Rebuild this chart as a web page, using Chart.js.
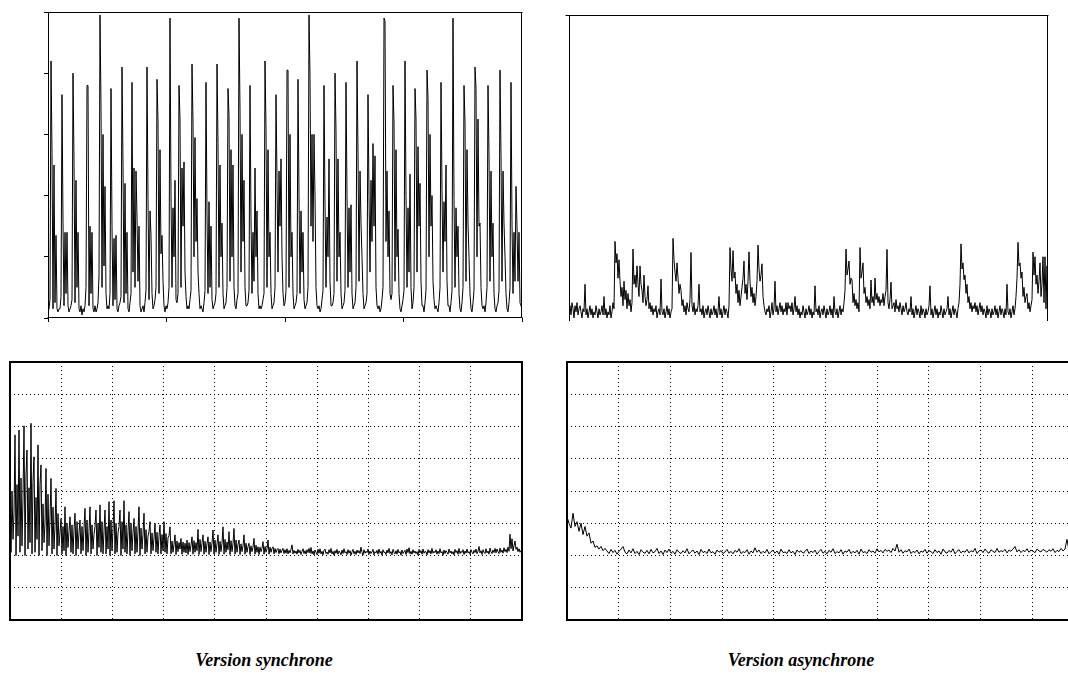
<!DOCTYPE html>
<html>
<head>
<meta charset="utf-8">
<script src="https://cdn.jsdelivr.net/npm/chart.js@4.4.1/dist/chart.umd.min.js"></script>
<style>
  html, body { margin: 0; padding: 0; background: #fff; overflow: hidden; }
  body { width: 1068px; height: 690px; position: relative; }
  canvas { position: absolute; }
  .caption {
    position: absolute;
    font: italic bold 18px 'Liberation Serif', 'Times New Roman', serif;
    line-height: 18px;
    color: #000;
    white-space: nowrap;
    transform: translateX(-50%);
  }
</style>
</head>
<body>
<canvas id="sync-signal" width="540" height="330" style="left:0;top:0"></canvas>
<canvas id="async-signal" width="528" height="330" style="left:540px;top:0"></canvas>
<canvas id="sync-spectrum" width="540" height="290" style="left:0;top:350px"></canvas>
<canvas id="async-spectrum" width="540" height="290" style="left:555px;top:350px"></canvas>
<div class="caption" style="left:264px;top:651px">Version synchrone</div>
<div class="caption" style="left:801px;top:651px">Version asynchrone</div>
<script>
// one sample per pixel column, % of full scale
const syncSignal = [
  2, 3,
  6, 84, 54, 3, 50, 5, 27, 3, 2, 3, 3,
  7, 73, 31, 4, 28, 8, 28, 4, 2, 3, 4,
  6, 80, 51, 5, 45, 10, 28, 3, 2, 4, 1, 3, 2, 4,
  10, 76, 76, 4, 30, 8, 28, 3, 2, 4, 2, 3, 5,
  14, 99, 69, 10, 60, 17, 43, 8, 3, 4, 3,
  8, 75, 30, 4, 26, 6, 27, 3, 2, 4, 5,
  7, 82, 50, 5, 44, 8, 28, 3, 2, 5,
  8, 77, 15, 49, 10, 48, 33, 12, 30, 4, 2, 3, 4, 2, 5,
  9, 82, 39, 6, 35, 27, 8, 3, 4, 6,
  10, 78, 64, 8, 55, 21, 27, 12, 4, 2, 4, 3, 5,
  10, 98, 40, 10, 36, 20, 45, 6, 5,
  8, 76, 65, 10, 49, 30, 51, 15, 7, 3, 4, 3, 6,
  9, 83, 64, 20, 59, 25, 39, 15, 8, 3, 4, 3, 2, 5,
  9, 77, 34, 8, 38, 10, 30, 6, 3, 4, 5,
  8, 83, 57, 10, 50, 20, 31, 8, 3, 4, 5,
  10, 75, 66, 12, 55, 20, 50, 10, 4, 3, 6,
  8, 98, 68, 15, 60, 25, 45, 10, 4, 4, 5,
  9, 76, 32, 8, 28, 12, 49, 20, 35, 8, 3, 4, 3, 4, 6,
  8, 84, 62, 10, 55, 20, 28, 8, 3, 4, 5,
  10, 73, 45, 15, 48, 30, 52, 20, 8, 4, 5,
  9, 81, 81, 10, 60, 20, 28, 8, 3, 4, 5,
  8, 78, 40, 8, 35, 15, 28, 6, 3, 4, 5,
  10, 99, 79, 30, 60, 25, 60, 40, 10, 4, 3, 4, 2, 3, 6,
  9, 76, 37, 10, 33, 20, 52, 12, 4, 4, 5,
  8, 80, 61, 12, 52, 20, 28, 8, 3, 4, 5,
  9, 77, 40, 10, 36, 15, 37, 8, 3, 4, 5,
  10, 84, 54, 12, 48, 31, 20, 8, 3, 4, 5,
  8, 73, 40, 15, 45, 25, 57, 30, 53, 10, 4, 3, 4, 2, 3, 6,
  10, 98, 97, 25, 48, 20, 35, 8, 6,
  8, 76, 64, 12, 55, 20, 29, 8, 3, 2, 4, 6,
  9, 84, 40, 10, 36, 15, 47, 10, 3, 5,
  10, 75, 65, 15, 56, 30, 44, 12, 4, 4, 2, 5,
  9, 81, 72, 20, 60, 30, 40, 12, 6, 3, 4, 3, 2, 5,
  10, 77, 42, 15, 38, 25, 50, 12, 4, 4, 2, 5,
  9, 98, 39, 10, 36, 20, 30, 8, 3, 2, 5,
  10, 76, 64, 12, 55, 31, 20, 8, 3, 2, 5,
  9, 82, 75, 20, 65, 30, 31, 10, 4, 3, 4, 2, 5,
  10, 76, 53, 12, 48, 20, 31, 8, 3, 2, 4, 5,
  9, 81, 53, 12, 48, 31, 20, 8, 3, 2, 5,
  10, 77, 31, 8, 28, 12, 43, 30, 12, 28, 5, 4, 3,
];

const asyncSignal = [
  3, 5, 2, 6, 4, 1, 5, 3, 6, 2, 4, 5, 3, 1, 4, 3, 12, 2, 4, 1,
  3, 5, 2, 4, 1, 3, 2, 5, 3, 1, 4, 2, 3, 5, 2, 8, 2, 4, 1, 3, 2, 5, 1, 3, 6, 4,
  26, 19, 22, 14, 20, 13, 8, 11, 5, 13, 7, 10, 4, 9, 5, 7, 3, 6, 23.5, 12,
  15, 11, 18, 12, 8, 18, 12, 10, 6, 15, 8, 5, 7, 11.5, 4, 6, 3, 5,
  2, 4, 3, 5, 1, 3, 4, 2, 13.7, 3, 2, 4, 1, 3, 5, 2, 4, 1, 3, 4,
  27, 20, 16, 13, 19, 14, 9, 12, 10, 5, 7, 3, 5, 2, 6, 4, 3, 7, 22.4, 5,
  3, 6, 2, 4, 3, 5, 12, 3,
  4, 2, 5, 1, 3, 4, 2, 5, 3, 1, 4, 2, 3, 5, 2, 4, 1, 3, 8, 2, 4, 1, 3, 5, 2, 4, 3, 1, 5,
  24, 17, 13, 23, 14, 16, 9, 12, 6, 10, 5, 8, 11, 14, 19.6, 9, 12, 7, 13, 22.6,
  13, 8, 11, 6, 9, 5, 8, 13, 24.8, 17, 13, 15, 18.7, 8, 5, 3,
  2, 4, 3, 5, 1, 3, 6, 2, 4, 13, 3, 5, 2, 4, 6, 3, 5, 2, 4, 3,
  6, 2, 6, 4, 5, 3, 6, 2, 4, 8, 3, 5, 2, 4, 1, 3, 2, 5, 3, 1,
  4, 2, 3, 5, 2, 4, 1, 3, 2, 11.5, 3, 4, 2, 5, 1, 3, 4, 2, 5, 3,
  1, 4, 2, 3, 5, 2, 4, 1, 8, 3, 2, 4, 1, 3, 5, 2, 4, 3, 6,
  10, 23.5, 15, 17, 19.6, 12, 14, 13.4, 6, 9, 5, 7, 4, 6, 3, 24, 14, 16, 19, 9,
  11, 6, 8, 5, 7, 4, 13.4, 6, 8, 5, 14, 7, 9, 6, 8, 5, 7, 6, 9, 5,
  8, 10, 23.4, 6, 4, 7, 12.7, 4,
  5, 6, 3, 7, 4, 5, 3, 6, 4, 2, 5, 3, 4, 6, 3, 2, 4, 3, 8, 2,
  4, 1, 3, 5, 2, 4, 3, 1, 5, 2, 4, 3, 1, 4, 2, 3, 5, 11.5, 2, 4,
  1, 3, 5, 2, 4, 1, 3, 2, 5, 3, 1, 4, 2, 3, 4, 8, 2, 4, 1, 3,
  5, 2, 4, 3, 1, 4, 6,
  12, 25.2, 17, 19, 13.5, 15, 9, 12, 6, 8, 4, 6, 3, 5, 4, 6,
  3, 5, 2, 4, 6, 3, 5, 2, 4, 3, 1, 5, 2, 4, 3, 1, 4, 2, 3, 5,
  2, 4, 1, 3, 5, 2, 4, 3, 1, 4, 2, 12, 3, 2, 4, 1, 3, 5, 2, 4, 8,
  14, 25.7, 18, 19, 14, 16, 8, 11, 6, 8, 9, 4, 6, 3, 5, 7, 22.5, 15, 21, 12,
  15, 9, 13, 19, 8, 12, 21, 6, 21, 4, 18, 5,
];

// spectra, in hundredths of a grid division (8 divisions tall)
const syncSpectrum = [
  430, 210, 400, 250, 330, 574, 200, 420, 260, 589,
  210, 440, 230, 380, 602, 200, 450, 527, 220, 410,
  240, 610, 205, 430, 506, 210, 380, 250, 543, 200,
  420, 481, 215, 360, 240, 300, 470, 200, 390, 230,
  320, 439, 205, 350, 220, 290, 408, 200, 330, 230,
  270,
  315, 205, 290, 215, 351, 200, 300, 225, 275, 320, 210, 295, 205, 280,
  331, 200, 305, 220, 270, 310, 205, 290, 215, 285, 346, 200, 310, 210, 275,
  351, 205, 295, 220, 265, 290, 341, 200, 300, 225, 357, 210, 305, 205, 275,
  341, 205, 290, 220, 367, 200, 310, 215, 280, 370, 205, 300, 210, 270, 290,
  341, 200, 305, 220, 370, 210, 295, 205, 275, 336, 200, 300, 215, 270,
  315, 205, 290, 210, 275, 351, 200, 285, 220, 265, 331, 205, 280, 210, 260, 275,
  305, 205, 270, 215, 255, 300, 210, 272, 205, 260, 295, 205, 265, 215,
  305, 210, 268, 205, 255, 262, 289,
  205, 245, 210, 235, 264, 203, 245, 212, 240, 220, 253, 204, 242, 210, 238, 208,
  248, 203, 240, 212, 232, 258, 204, 246, 210, 240, 215, 281, 203, 250, 212, 238,
  264, 204, 244, 210, 236, 258, 203, 242, 212, 238, 279, 204, 248, 210, 236,
  264, 203, 244, 212, 238, 289, 204, 250, 210, 242, 218, 274, 203, 246, 212, 236,
  284, 204, 248, 210, 234, 248, 203, 236, 212, 230, 264, 204, 238, 210, 228,
  238, 203, 230, 212, 226, 253, 204, 232, 210, 227, 203, 226, 212, 222,
  243, 204, 228, 210, 220, 248, 204, 226, 210, 222, 227, 205, 222, 209, 218,
  222, 205, 220, 208, 216, 222, 206, 218, 207, 221, 205, 216, 208, 219, 233, 205, 216, 207,
  214, 204, 219, 208, 216, 203, 212, 221, 206, 215, 204, 218, 209, 222, 207, 225, 205, 214, 202, 217,
  210, 203, 219, 207, 221, 205, 213, 202, 216, 220, 206, 211, 204, 218, 208, 222, 205, 213, 201, 215,
  207, 219, 204, 214, 209, 202, 217, 206, 221, 208, 212, 203, 218, 207, 215, 201, 211, 219, 205, 213,
  203, 217, 208, 215, 206, 226, 210, 201, 218, 207, 213, 209, 220, 204, 214, 206, 211, 219, 202, 212,
  208, 216, 204, 220, 207, 213, 201, 218, 209, 211, 203, 217, 208, 222, 206, 212, 202, 219, 210, 205,
  215, 204, 219, 208, 212, 201, 217, 206, 211, 216, 203, 220, 209, 224, 205, 213, 204, 218, 208, 214,
  206, 212, 201, 219, 208, 215, 204, 220, 207, 213, 211, 202, 218, 208, 215, 205, 222, 207, 213, 209,
  218, 204, 214, 206, 221, 208, 212, 201, 217, 206, 215, 210, 204, 220, 208, 214, 205, 212, 202, 219,
  209, 215, 204, 222, 206, 213, 209, 218, 203, 214, 207, 220, 208, 212, 204, 218, 210, 205, 216, 209,
  220, 206, 213, 228, 208, 215, 203, 218, 210, 206, 221, 208, 214, 204, 223, 211, 206, 217, 209, 222,
  208, 220, 212, 206, 223, 210, 217, 207, 224, 212, 219, 209, 226, 213, 266, 221, 252, 214, 230, 245,
  219, 226, 212, 221, 210, 216,
];

// one sample every 2 px
const asyncSpectrum = [
  320, 300, 285, 331, 290, 305, 275, 300, 265, 290, 260, 270, 238, 245, 225, 230, 220, 228, 215, 222,
  214, 206, 219, 209, 216, 204, 213, 220, 228, 210, 205, 217, 208, 221, 206, 213, 203, 218, 210, 207,
  216, 205, 219, 208, 212, 222, 206, 214, 203, 217, 209, 220, 207, 213, 204, 218, 210, 206, 215, 208,
  221, 205, 212, 217, 207, 214, 203, 219, 209, 213, 206, 220, 208, 212, 204, 217, 210, 215, 206, 211,
  219, 207, 213, 205, 216, 210, 221, 206, 212, 209, 218, 204, 214, 208, 224, 210, 217, 206, 213, 208,
  219, 205, 212, 216, 207, 214, 204, 220, 209, 211, 206, 218, 208, 213, 203, 217, 210, 215, 207, 212,
  220, 206, 214, 209, 217, 204, 212, 219, 207, 213, 205, 216, 210, 221, 206, 212, 208, 218, 204, 214,
  210, 219, 206, 213, 208, 216, 204, 220, 209, 212, 206, 218, 210, 214, 207, 221, 211, 216, 208, 219,
  213, 217, 209, 222, 214, 235, 210, 218, 207, 215, 211, 220, 206, 213, 209, 217, 205, 214, 210, 219,
  207, 215, 212, 206, 218, 209, 214, 204, 220, 211, 207, 216, 210, 221, 205, 213, 218, 208, 214, 210,
  219, 208, 215, 211, 222, 206, 214, 217, 209, 220, 212, 207, 218, 213, 209, 222, 210, 215, 212, 219,
  208, 217, 213, 220, 228, 211, 218, 209, 216, 212, 221, 210, 217, 213, 209, 220, 214, 211, 219, 215,
  210, 218, 213, 221, 209, 216, 212, 222, 214, 220, 250, 214, 217, 211, 219, 212, 216, 213, 218,
];

const framePlugin = {
  id: 'frame',
  afterDatasetsDraw(chart, args, opts) {
    const { ctx, chartArea: a } = chart;
    const w = opts.width || 1;
    const sides = opts.sides || 'tlbr';
    const ext = opts.extendLeft || 0;
    const h = w % 2 ? 0.5 : 0;
    ctx.save();
    ctx.strokeStyle = '#000';
    ctx.lineWidth = w;
    ctx.beginPath();
    if (sides.includes('t')) { ctx.moveTo(a.left - w / 2 - ext, a.top + h); ctx.lineTo(a.right + w / 2, a.top + h); }
    if (sides.includes('b')) { ctx.moveTo(a.left - w / 2, a.bottom - h); ctx.lineTo(a.right + w / 2, a.bottom - h); }
    if (sides.includes('l')) { ctx.moveTo(a.left + h, a.top); ctx.lineTo(a.left + h, a.bottom); }
    if (sides.includes('r')) { ctx.moveTo(a.right - h, a.top); ctx.lineTo(a.right - h, a.bottom); }
    ctx.stroke();
    ctx.restore();
  },
};

function lineData(values) {
  return {
    labels: values.map((_, i) => i),
    datasets: [{
      data: values,
      borderColor: '#000',
      borderWidth: 1,
      pointRadius: 0,
      fill: false,
      tension: 0,
    }],
  };
}

const baseOptions = {
  responsive: false,
  animation: false,
  events: [],
  plugins: { legend: { display: false }, tooltip: { enabled: false } },
};

const tickAxis = (max, step, size) => ({
  type: 'linear', min: 0, max: max,
  ticks: { display: false, stepSize: step },
  grid: { drawOnChartArea: false, drawTicks: true, tickLength: 4, color: '#000' },
  border: { display: false },
  afterFit: s => { if (s.isHorizontal()) s.height = size; else s.width = size; },
});

const gridAxis = (max, step) => ({
  type: 'linear', min: 0, max: max,
  ticks: { display: false, stepSize: step },
  grid: { drawTicks: false, color: '#000' },
  border: { display: false, dash: [1, 3] },
  afterFit: s => { if (s.isHorizontal()) s.height = 0; else s.width = 0; },
});

new Chart(document.getElementById('sync-signal'), {
  type: 'line',
  data: lineData(syncSignal),
  options: {
    ...baseOptions,
    layout: { padding: { left: 44, top: 12, right: 18, bottom: 8 } },
    scales: { x: tickAxis(474, 118.5, 4), y: tickAxis(100, 20, 4) },
    plugins: { ...baseOptions.plugins, frame: { width: 1 } },
  },
  plugins: [framePlugin],
});

new Chart(document.getElementById('async-signal'), {
  type: 'line',
  data: lineData(asyncSignal),
  options: {
    ...baseOptions,
    layout: { padding: { left: 29, top: 15, right: 20, bottom: 9 } },
    scales: {
      x: { type: 'linear', min: 0, max: 479, display: false },
      y: { min: 0, max: 100, display: false },
    },
    plugins: { ...baseOptions.plugins, frame: { width: 1, sides: 'tlr', extendLeft: 3 } },
  },
  plugins: [framePlugin],
});

new Chart(document.getElementById('sync-spectrum'), {
  type: 'line',
  data: lineData(syncSpectrum),
  options: {
    ...baseOptions,
    layout: { padding: { left: 10, top: 12, right: 18, bottom: 20 } },
    scales: { x: gridAxis(512, 51.2), y: gridAxis(800, 100) },
    plugins: { ...baseOptions.plugins, frame: { width: 2 } },
  },
  plugins: [framePlugin],
});

new Chart(document.getElementById('async-spectrum'), {
  type: 'line',
  data: lineData(asyncSpectrum),
  options: {
    ...baseOptions,
    layout: { padding: { left: 12, top: 12, right: 11, bottom: 20 } },
    scales: { x: gridAxis(258.5, 25.85), y: gridAxis(800, 100) },
    plugins: { ...baseOptions.plugins, frame: { width: 2 } },
  },
  plugins: [framePlugin],
});
</script>
</body>
</html>
